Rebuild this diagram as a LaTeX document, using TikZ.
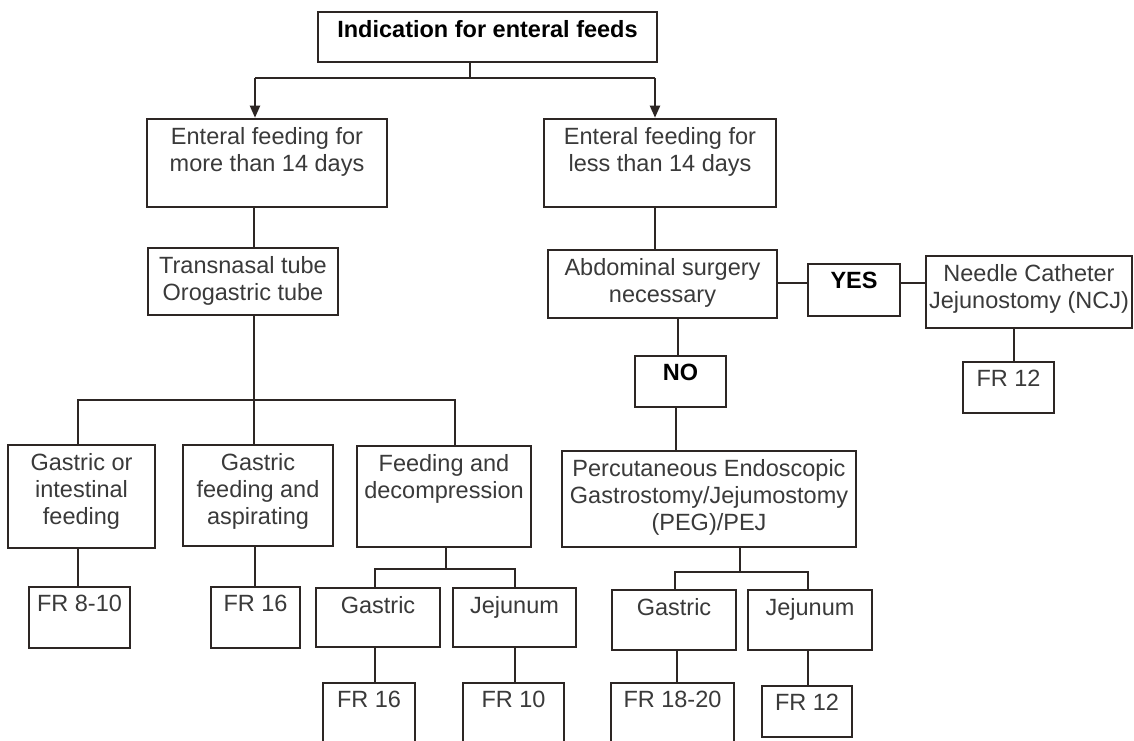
\documentclass[tikz,border=0pt]{standalone}
\usepackage{fontspec}
\setmainfont{Liberation Sans}
\usetikzlibrary{fit,arrows.meta}
\definecolor{ln}{RGB}{45,38,36}
\definecolor{tx}{RGB}{58,58,58}
\tikzset{
  bx/.style={draw=ln, line width=1.3pt, inner sep=0pt, rectangle},
  txt/.style={text=tx, inner sep=0pt, align=center, font=\fontsize{11.75}{13.5}\selectfont},
  btxt/.style={txt, text=black, font=\fontsize{11.75}{13.5}\selectfont\bfseries},
  cn/.style={draw=ln, line width=1pt},
  arr/.style={cn, -{Triangle[length=6pt,width=5pt]}},
}
\newcommand\mkbox[7][txt]{%
  \node[bx, fit={(#3,#4) (#5,#6)}] (#2) {};
  \node[#1, anchor=north] (#2-t) at ([yshift=-4.5pt]#2.north) {#7};}
\begin{document}
\begin{tikzpicture}[x=0.5pt,y=-0.5pt]
\useasboundingbox (0,0) rectangle (1134,740);
\fill[white] (0,0) rectangle (1134,740);
\clip (0,0) rectangle (1134,740);
% boxes
\mkbox[btxt]{top}{318}{12}{657}{62}{Indication for enteral feeds}
\mkbox{more}{147}{119}{387}{207}{Enteral feeding for\\more than 14 days}
\mkbox{less}{544}{119}{776}{207}{Enteral feeding for\\less than 14 days}
\mkbox{trans}{148}{248}{338}{315}{Transnasal tube\\Orogastric tube}
\mkbox{abd}{548}{250}{777}{318}{Abdominal surgery\\necessary}
\mkbox[btxt]{yes}{808}{264}{900}{316}{YES}
\mkbox{ncj}{926}{256}{1132}{328}{Needle Catheter\\Jejunostomy (NCJ)}
\mkbox{fr12a}{963}{362}{1054}{413}{FR 12}
\mkbox[btxt]{no}{635}{356}{726}{407}{NO}
\mkbox{peg}{562}{451}{856}{547}{Percutaneous Endoscopic\\Gastrostomy/Jejumostomy\\(PEG)/PEJ}
\mkbox{box1}{8}{445}{155}{548}{Gastric or\\intestinal\\feeding}
\mkbox{box2}{183}{445}{333}{546}{Gastric\\feeding and\\aspirating}
\mkbox{box3}{357}{446}{531}{547}{Feeding and\\decompression}
\mkbox{fr810}{29}{587}{130}{648}{FR 8-10}
\mkbox{fr16a}{211}{587}{300}{648}{FR 16}
\mkbox{gasL}{316}{588}{440}{647}{Gastric}
\mkbox{jejL}{453}{588}{576}{647}{Jejunum}
\mkbox{fr16b}{323}{683}{415}{760}{FR 16}
\mkbox{fr10}{463}{683}{564}{760}{FR 10}
\mkbox{gasR}{612}{590}{736}{650}{Gastric}
\mkbox{jejR}{748}{590}{872}{650}{Jejunum}
\mkbox{fr1820}{611}{683}{734}{760}{FR 18-20}
\mkbox{fr12b}{762}{686}{852}{737}{FR 12}
% connectors: top split
\coordinate (j1) at (470,78);
\coordinate (a1) at (255,78);
\coordinate (a2) at (655,78);
\draw[cn] (top.south -| j1) -- (j1);
\draw[cn] (a1) -- (a2);
\draw[arr] (a1) -- (a1 |- more.north);
\draw[arr] (a2) -- (a2 |- less.north);
% vertical links
\coordinate (v2) at (254,0);
\draw[cn] (more.south -| v2) -- (trans.north -| v2);
\coordinate (v3) at (655,0);
\draw[cn] (less.south -| v3) -- (abd.north -| v3);
\coordinate (h4) at (0,283);
\draw[cn] (abd.east |- h4) -- (yes.west |- h4);
\draw[cn] (yes.east |- h4) -- (ncj.west |- h4);
\coordinate (v5) at (678,0);
\draw[cn] (abd.south -| v5) -- (no.north -| v5);
\coordinate (v6) at (676,0);
\draw[cn] (no.south -| v6) -- (peg.north -| v6);
\coordinate (v7) at (1014,0);
\draw[cn] (ncj.south -| v7) -- (fr12a.north -| v7);
% left tree
\coordinate (j8) at (254,400);
\coordinate (b1) at (78,400);
\coordinate (b3) at (455,400);
\draw[cn] (trans.south -| j8) -- (j8);
\draw[cn] (b1 |- box1.north) -- (b1) -- (b3) -- (b3 |- box3.north);
\draw[cn] (j8) -- (j8 |- box2.north);
\coordinate (v9) at (78,0);
\draw[cn] (box1.south -| v9) -- (fr810.north -| v9);
\coordinate (v10) at (255,0);
\draw[cn] (box2.south -| v10) -- (fr16a.north -| v10);
\coordinate (j11) at (446,569);
\coordinate (c1) at (375,569);
\coordinate (c2) at (515,569);
\draw[cn] (box3.south -| j11) -- (j11);
\draw[cn] (c1 |- gasL.north) -- (c1) -- (c2) -- (c2 |- jejL.north);
\draw[cn] (gasL.south -| c1) -- (fr16b.north -| c1);
\draw[cn] (jejL.south -| c2) -- (fr10.north -| c2);
% right tree
\coordinate (j12) at (740,572);
\coordinate (d1) at (675,572);
\coordinate (d2) at (808,572);
\draw[cn] (peg.south -| j12) -- (j12);
\draw[cn] (d1 |- gasR.north) -- (d1) -- (d2) -- (d2 |- jejR.north);
\coordinate (v13) at (677,0);
\draw[cn] (gasR.south -| v13) -- (fr1820.north -| v13);
\coordinate (v14) at (808,0);
\draw[cn] (jejR.south -| v14) -- (fr12b.north -| v14);
\end{tikzpicture}
\end{document}
